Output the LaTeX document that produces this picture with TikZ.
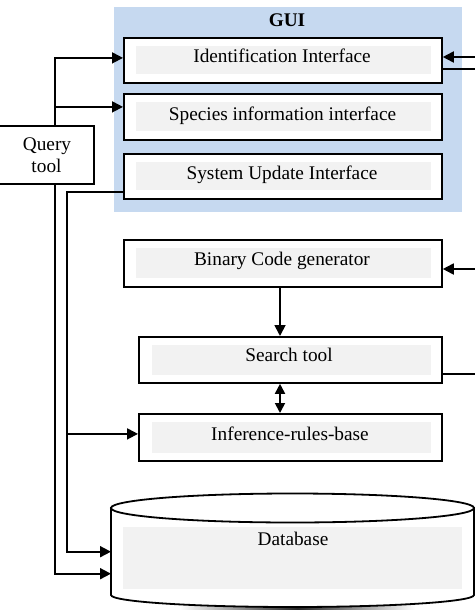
\documentclass[tikz,border=0pt]{standalone}
\usepackage{fontspec}
\setmainfont{Liberation Serif}
\usetikzlibrary{arrows.meta}
\definecolor{guiblue}{RGB}{198,217,240}
\definecolor{innergray}{RGB}{242,242,242}
\begin{document}
\begin{tikzpicture}[x=1pt,y=-1pt,
  lbl/.style={anchor=base, inner sep=0pt, font=\fontsize{19.3}{22}\selectfont},
  unitbox/.style={draw, line width=1.8pt, fill=white, inner sep=0pt, anchor=north west,
    path picture={\fill[innergray] ([shift={(12pt,-8pt)}]path picture bounding box.north west)
      rectangle ([shift={(-11pt,9pt)}]path picture bounding box.south east);}},
  unitbox2/.style={unitbox,
    path picture={\fill[innergray] ([shift={(13pt,-8pt)}]path picture bounding box.north west)
      rectangle ([shift={(-11pt,8pt)}]path picture bounding box.south east);}},
  plainbox/.style={draw, line width=1.8pt, fill=white, inner sep=0pt, anchor=north west},
  conn/.style={line width=1.8pt},
  arr/.style={conn, -{Triangle[length=11pt,width=11pt]}},
  arr2/.style={conn, {Triangle[length=10pt,width=10pt]}-{Triangle[length=10pt,width=10pt]}}]
\useasboundingbox (0,0) rectangle (474,610);
\fill[white] (0,0) rectangle (474,610);

% GUI container
\node[fill=guiblue, inner sep=0pt, anchor=north west, minimum width=348, minimum height=205] (gui) at (114,7) {};
\node[lbl, font=\fontsize{19.3}{22}\selectfont\bfseries] (guit) at (287,26.7) {GUI};

% boxes
\node[unitbox, minimum width=318, minimum height=45] (idf) at (123,37) {};
\node[lbl] (idft) at (282,63) {Identification Interface};
\node[unitbox, minimum width=318, minimum height=46] (sp) at (123,93) {};
\node[lbl] (spt) at (282.5,120) {Species information interface};
\node[unitbox, minimum width=318, minimum height=45] (su) at (123,153) {};
\node[lbl] (sut) at (282,179) {System Update Interface};
\node[unitbox, minimum width=318, minimum height=47] (bin) at (123,239) {};
\node[lbl] (bint) at (282,265.7) {Binary Code generator};
\node[unitbox2, minimum width=303, minimum height=46] (sr) at (138,336) {};
\node[lbl] (srt) at (289,361.7) {Search tool};
\node[unitbox2, minimum width=303, minimum height=47] (inf) at (138,413) {};
\node[lbl] (inft) at (290,440.7) {Inference-rules-base};

% Query tool
\node[plainbox, minimum width=95, minimum height=58] (qt) at (-2,125) {};
\node[lbl] (qt1) at (47,150.5) {Query};
\node[lbl] (qt2) at (46.5,172.3) {tool};

% Database cylinder
\shade[left color=white, right color=white, middle color=black!85] (180,598) rectangle (415,611);
\draw[line width=1.8pt, fill=white] (111,508) -- (111,595)
  arc[start angle=180, end angle=360, x radius=181.5pt, y radius=12pt] -- (474,508) -- cycle;
\fill[innergray] (123,527) rectangle (462,589);
\draw[line width=1.8pt, fill=white] (292.5,508) ellipse [x radius=181.5pt, y radius=14.5pt];
\node[inner sep=0pt, anchor=north west, minimum width=363, minimum height=87] (db) at (111,508) {};
\node[lbl] (dbt) at (293,545.7) {Database};

% coordinates
\coordinate (idin) at ([yshift=2.5pt]idf.west);
\coordinate (spin) at ([yshift=10pt]sp.west);
\coordinate (suout) at ([yshift=-15.5pt]su.west);
\coordinate (infin) at ([yshift=3.5pt]inf.west);
\coordinate (dblow) at ([yshift=-22pt]db.west);
\coordinate (rin1) at (476,57);
\coordinate (rout1) at (476,69);
\coordinate (rin2) at (476,269);
\coordinate (rout2) at (476,374);

% left connectors
\draw[arr] (55,0 |- qt.north) |- (idin);
\draw[arr] (55,0 |- spin) -- (spin);
\draw[arr] (55,0 |- qt.south) |- (dblow);
\draw[arr] (suout) -| (67,0 |- db.west) -- (db.west);
\draw[arr] (67,0 |- infin) -- (infin);

% right connectors
\draw[arr] (rin1) -- (rin1 -| idf.east);
\draw[conn] (rout1 -| idf.east) -- (rout1);
\draw[arr] (rin2) -- (rin2 -| bin.east);
\draw[conn] (rout2 -| sr.east) -- (rout2);

% vertical connectors
\draw[arr] (280,0 |- bin.south) -- (280,0 |- sr.north);
\draw[arr2] (280,0 |- sr.south) -- (280,0 |- inf.north);
\end{tikzpicture}
\end{document}
